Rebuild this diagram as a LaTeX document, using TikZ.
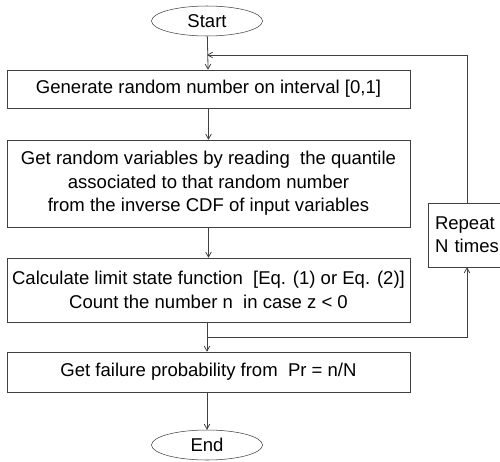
\documentclass[tikz,border=0pt]{standalone}
\usepackage{fontspec}
\setmainfont{Liberation Sans}
\usetikzlibrary{arrows,shapes.geometric}
\definecolor{linegray}{HTML}{404040}

\begin{document}
\begin{tikzpicture}[
x=0.75pt,y=-0.75pt,
font=\fontsize{13.9}{17.5}\selectfont,
stepbox/.style={draw=linegray,rectangle,minimum width=302.25pt,inner sep=0pt,align=center},
term/.style={draw=linegray,ellipse,minimum width=83.25pt,minimum height=22.5pt,inner sep=0pt},
flow/.style={->,>=angle 60,linegray,semithick}]
    % page frame
    \clip (0,0) rectangle (500,461);

    % terminals and steps
    \node[term] (start) at (207,21) {Start};
    \node[stepbox,minimum height=28.5pt] (gen) at (208.5,89) {Generate random number on interval [0,1]};
    \node[stepbox,minimum height=65.25pt] (quant) at (208.5,183.5)
        {Get random variables by reading\ \ the quantile\\ associated to that random number\\ from the inverse CDF of input variables};
    \node[stepbox,minimum height=48pt] (lsf) at (208.5,290)
        {Calculate limit state function\ \ [Eq. (1) or Eq. (2)]\\ Count the number n\ \ in case z < 0};
    \node[stepbox,minimum height=30pt] (prob) at (208.5,372) {Get failure probability from\ \ Pr = n/N};
    \node[term] (end) at (207,445) {End};

    % loop counter
    \node[draw=linegray,rectangle,minimum width=64pt,minimum height=48pt,
          text width=53.25pt,align=left,inner sep=0pt] (rep) at (470.5,235) {Repeat\\N times};

    \coordinate (split) at (207,337);
    \coordinate (back) at (207,55);

    % main flow
    \draw[flow] (start) -- (gen);
    \draw[flow] (gen) -- (quant);
    \draw[flow] (quant) -- (lsf);
    \draw[flow] (lsf.south -| split) -- (prob.north -| split);
    \draw[flow] (prob.south -| end) -- (end);

    % loop back
    \draw[flow] (split) -| (rep.south -| 467,0);
    \draw[flow] (rep.north -| 467,0) |- (back);

\end{tikzpicture}
\end{document}
